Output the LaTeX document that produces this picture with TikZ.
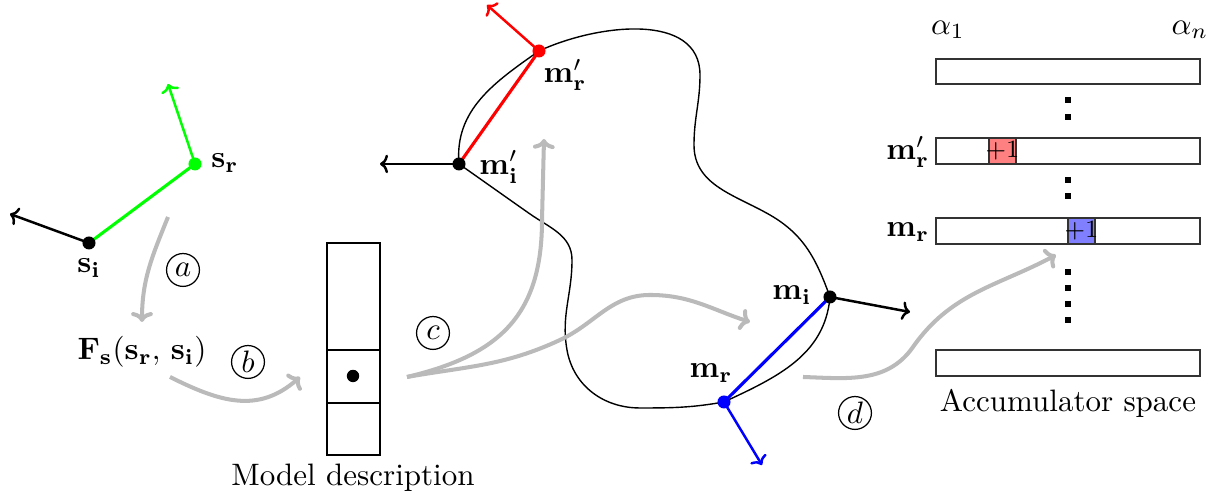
\documentclass[tikz,border=0pt]{standalone}
\usetikzlibrary{arrows.meta}
\begin{document}
\begin{tikzpicture}[x=0.3225pt,y=0.3225pt,
  flow/.style={draw=black!27,line width=1.3pt,-{To[length=3.2pt,width=7pt]}},
  vec/.style={line width=0.8pt,-{To[length=2.6pt,width=6pt]}},
  seg/.style={line width=1pt},
  pt/.style={circle,fill,inner sep=0pt,minimum size=4.2pt},
  lbl/.style={inner sep=1pt},
  step label/.style={circle,draw,inner sep=0pt,minimum size=10.6pt},
  row/.style={draw=black!80,line width=0.5pt},
  vdot/.style={fill=black,inner sep=0pt,minimum size=1.8pt}]
\useasboundingbox (0,0) rectangle (1215,500);

% scene points
\coordinate (si) at (89,257);
\coordinate (sr) at (195,336);
\coordinate (mip) at (459,336);
\coordinate (mrp) at (539,449);
\coordinate (mi) at (830,203);
\coordinate (mr) at (724,98);

% object contour
\draw[line width=0.45pt] (mip) to[out=95,in=215] (mrp)
  to[out=25,in=90] (700,425) to[out=-90,in=90] (694,355)
  to[out=-90,in=150] (770,285) to[out=-30,in=110] (mi)
  to[out=-95,in=25] (mr)
  to[out=190,in=0] (640,92) to[out=180,in=-80] (567,150)
  to[out=100,in=-90] (572,240) to[out=90,in=-35] (530,286)
  to[out=145,in=-35] (mip);

% scene pair
\draw[green,seg] (si) -- (sr);
\draw[vec] (si) -- (10,286) coordinate (sin);
\draw[vec,green] (sr) -- (168,416) coordinate (srn);
\node[pt,black] (dsi) at (si) {};
\node[pt,green] (dsr) at (sr) {};
\node[lbl] (lsi) at (89,232) {$\mathbf{s_i}$};
\node[lbl] (lsr) at (225,337) {$\mathbf{s_r}$};

% model pair (red)
\draw[red,seg] (mip) -- (mrp);
\draw[vec] (mip) -- (380,336) coordinate (mipn);
\draw[vec,red] (mrp) -- (487,495) coordinate (mrpn);
\node[pt,black] (dmip) at (mip) {};
\node[pt,red] (dmrp) at (mrp) {};
\node[lbl] (lmrp) at (565,425) {$\mathbf{m'_r}$};
\node[lbl] (lmip) at (499,333) {$\mathbf{m'_i}$};

% model pair (blue)
\draw[blue,seg] (mi) -- (mr);
\draw[vec] (mi) -- (910,188) coordinate (min);
\draw[vec,blue] (mr) -- (762,35) coordinate (mrn);
\node[pt,black] (dmi) at (mi) {};
\node[pt,blue] (dmr) at (mr) {};
\node[lbl] (lmi) at (792,205) {$\mathbf{m_i}$};
\node[lbl] (lmr) at (711,127) {$\mathbf{m_r}$};

% feature
\node[lbl] (feat) at (142,148) {$\mathbf{F_s}(\mathbf{s_r},\,\mathbf{s_i})$};

% model description table
\draw[line width=0.5pt] (327,45) rectangle (380,257);
\draw[line width=0.5pt] (327,150) -- (380,150) (327,97) -- (380,97);
\node[pt,black,minimum size=4pt] (entry) at (353,124) {};
\node (mdesc) at (353,22) {Model description};

% accumulator
\draw[row] (936,416) rectangle (1200,441);
\draw[row,fill=red!50] (989,336) rectangle (1016,362);
\draw[row,fill=blue!50] (1068,256) rectangle (1095,282);
\draw[row] (936,336) rectangle (1200,362);
\draw[row] (936,256) rectangle (1200,282);
\draw[row] (936,124) rectangle (1200,150);
\node[inner sep=0pt,font=\footnotesize] (pr) at (1002.5,349) {+1};
\node[inner sep=0pt,font=\footnotesize] (pb) at (1081.5,269) {+1};
\foreach \yy in {400,383,320,304,228,212,196,180}
  \node[vdot] at (1068,\yy) {};
\node (a1) at (948,470) {$\alpha_1$};
\node (an) at (1190,470) {$\alpha_n$};
\node[anchor=east,inner sep=1pt] (amrp) at (933,348) {$\mathbf{m'_r}$};
\node[anchor=east,inner sep=1pt] (amr) at (933,268) {$\mathbf{m_r}$};
\node (accs) at (1068,97) {Accumulator space};

% process arrows
\coordinate (a0) at (168,283);
\coordinate (a1e) at (142,178);
\draw[flow] (a0) to[out=-112,in=90] (a1e);
\node[step label] (ca) at (183,230) {$a$};

\coordinate (b0) at (170,123);
\coordinate (b1) at (300,123);
\draw[flow] (b0) .. controls (220,98) and (258,86) .. (b1);
\node[step label] (cb) at (248,138) {$b$};

\coordinate (c0) at (407,123);
\coordinate (c1) at (544,361);
\coordinate (c2) at (750,178);
\draw[flow] (c0) .. controls (500,145) and (542,185) .. (542,280) -- (c1);
\draw[flow] (c0) to[out=10,in=205] (560,160) to[out=25,in=180] (650,205) to[out=0,in=162] (c2);
\node[step label] (cc) at (433,167) {$c$};

\coordinate (d0) at (803,123);
\coordinate (d1) at (1056,245);
\draw[flow] (d0) to[out=-2,in=235] (913,153) to[out=55,in=208] (d1);
\node[step label] (cd) at (855,87) {$d$};
\end{tikzpicture}
\end{document}
